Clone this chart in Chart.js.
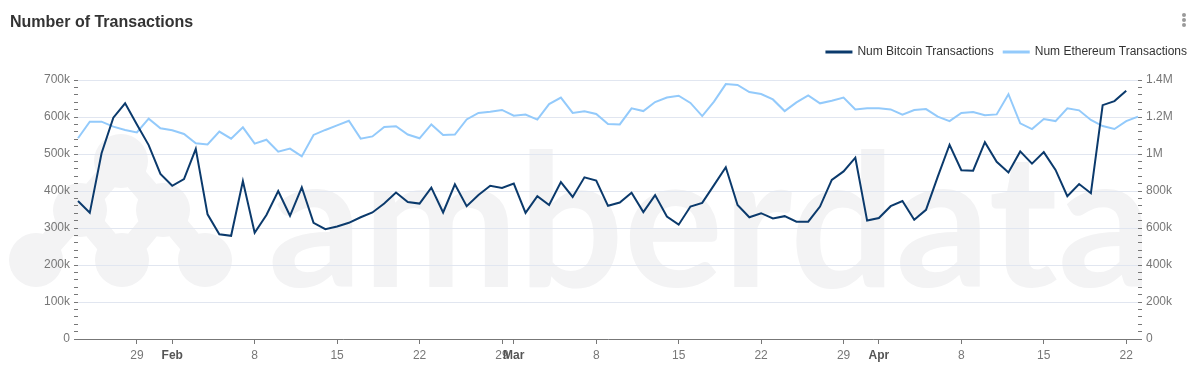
<!DOCTYPE html>
<html>
<head>
<meta charset="utf-8">
<script src="https://cdn.jsdelivr.net/npm/chart.js@4"></script>
<style>
    body { margin: 0; background: #fff; font-family: 'Liberation Sans', Arial, sans-serif; }
    #wrap { position: relative; width: 1189px; height: 377px; }
    #title { position: absolute; left: 10px; top: 13px; font-size: 16px; line-height: 18px; font-weight: bold; color: #333; z-index: 2; }
    .dot { position: absolute; left: 1182px; width: 4px; height: 4px; border-radius: 50%; background: #9a9a9a; z-index: 2; }
    canvas { position: absolute; left: 0; top: 0; }
</style>
</head>
<body>
<div id="wrap">
    <div id="title">Number of Transactions</div>
    <div class="dot" style="top:13px"></div>
    <div class="dot" style="top:18px"></div>
    <div class="dot" style="top:23px"></div>
    <canvas id="myChart" width="1189" height="377"></canvas>
</div>
<script>
// Дни: с 24 января 2024 по 23 апреля 2024
const startDate = '2024-01-24';
const dayCount = 91;

// Количество транзакций Bitcoin (тыс.)
const btcTx = [
    373, 341, 502, 598, 637, 580, 524, 446, 414, 432,
    514, 337, 283, 279, 427, 287, 335, 400, 333, 410,
    314, 297, 304, 314, 329, 342, 366, 396, 370, 366,
    409, 342, 418, 359, 389, 414, 408, 420, 341, 386,
    362, 424, 384, 437, 428, 360, 369, 395, 343, 389,
    331, 309, 358, 368, 416, 464, 362, 329, 340, 326,
    332, 317, 317, 358, 430, 453, 490, 320, 327, 359,
    373, 322, 349, 439, 525, 456, 455, 532, 479, 450,
    507, 474, 505, 457, 386, 419, 394, 632, 643, 671,
    null
];

// Количество транзакций Ethereum (тыс.)
const ethTx = [
    1085, 1175, 1175, 1148, 1130, 1117, 1191, 1139, 1128, 1108,
    1058, 1052, 1121, 1083, 1144, 1056, 1077, 1013, 1029, 987,
    1103, 1130, 1155, 1180, 1083, 1095, 1146, 1150, 1105, 1085,
    1160, 1103, 1105, 1187, 1222, 1229, 1238, 1207, 1213, 1186,
    1270, 1305, 1222, 1231, 1216, 1162, 1160, 1247, 1232, 1281,
    1305, 1315, 1276, 1205, 1283, 1378, 1373, 1335, 1324, 1295,
    1232, 1279, 1317, 1274, 1288, 1305, 1241, 1247, 1247, 1241,
    1213, 1238, 1243, 1202, 1178, 1222, 1227, 1209, 1214, 1323,
    1166, 1135, 1189, 1178, 1247, 1236, 1184, 1151, 1135, 1178,
    1202
];

// Подписи оси X
const tickDates = ['2024-01-29', '2024-02-01', '2024-02-08', '2024-02-15', '2024-02-22', '2024-02-29',
    '2024-03-01', '2024-03-08', '2024-03-15', '2024-03-22', '2024-03-29',
    '2024-04-01', '2024-04-08', '2024-04-15', '2024-04-22'];
const tickText = ['29', 'Feb', '8', '15', '22', '29', 'Mar', '8', '15', '22', '29', 'Apr', '8', '15', '22'];
const monthTicks = ['Feb', 'Mar', 'Apr'];

// Категории (даты)
let labels = [];
let d = new Date(startDate + 'T00:00:00Z');
for (let i = 0; i < dayCount; i++) {
    labels.push(d.toISOString().slice(0, 10));
    d.setUTCDate(d.getUTCDate() + 1);
}
const tickIndex = tickDates.map(t => labels.indexOf(t));

Chart.defaults.font.family = "'Liberation Sans', Arial, sans-serif";
Chart.defaults.font.size = 12;

// Водяной знак на фоне
const watermark = {
    id: 'watermark',
    beforeDraw(chart) {
        const c = chart.ctx;
        c.save();
        c.fillStyle = '#f3f3f4';
        c.strokeStyle = '#f3f3f4';
        const blobs = [[121, 161], [80, 210], [163, 210], [36, 260], [122, 260], [205, 260]];
        c.lineWidth = 24;
        c.lineCap = 'round';
        const links = [[0, 1], [0, 2], [1, 3], [1, 4], [2, 4], [2, 5]];
        links.forEach(([a, b]) => {
            c.beginPath();
            c.moveTo(blobs[a][0], blobs[a][1]);
            c.lineTo(blobs[b][0], blobs[b][1]);
            c.stroke();
        });
        blobs.forEach(([x, y]) => {
            c.beginPath();
            c.arc(x, y, 27, 0, Math.PI * 2);
            c.fill();
        });
        c.font = "bold 186px Lato, 'Open Sans', sans-serif";
        c.textBaseline = 'alphabetic';
        c.fillText('amberdata', 268, 287);
        c.restore();
    }
};

// Отступ под легендой
const legendGap = {
    id: 'legendGap',
    beforeInit(chart) {
        const fit = chart.legend.fit;
        chart.legend.fit = function () {
            fit.bind(chart.legend)();
            this.height = 44;
        };
    }
};

const ctx = document.getElementById('myChart').getContext('2d');

window.myChart = new Chart(ctx, {
    type: 'line',
    data: {
        labels: labels,
        datasets: [{
            label: 'Num Bitcoin Transactions',
            data: btcTx,
            borderColor: '#0b3a6c',
            backgroundColor: '#0b3a6c',
            borderWidth: 2,
            pointRadius: 0,
            tension: 0,
            yAxisID: 'y'
        }, {
            label: 'Num Ethereum Transactions',
            data: ethTx,
            borderColor: '#93cafb',
            backgroundColor: '#93cafb',
            borderWidth: 2,
            pointRadius: 0,
            tension: 0,
            yAxisID: 'y1'
        }]
    },
    options: {
        responsive: false,
        animation: false,
        devicePixelRatio: 1,
        layout: { padding: { top: 36, right: -8, left: 0, bottom: 0 } },
        plugins: {
            legend: {
                position: 'top',
                align: 'end',
                labels: {
                    boxWidth: 25,
                    boxHeight: 1,
                    color: '#333',
                    padding: 10,
                    font: { size: 12 }
                }
            },
            tooltip: { enabled: false }
        },
        scales: {
            x: {
                offset: false,
                afterFit(scale) { scale.height = 38; },
                afterBuildTicks(scale) {
                    scale.ticks = scale.ticks.filter(t => tickIndex.includes(t.value));
                },
                grid: { display: true, drawOnChartArea: false, drawTicks: true, tickLength: 5, tickColor: '#777' },
                border: { display: true, color: '#777', width: 1 },
                ticks: {
                    autoSkip: false,
                    maxRotation: 0,
                    padding: 4,
                    callback: v => tickText[tickIndex.indexOf(v)],
                    color: c => monthTicks.includes(tickText[tickIndex.indexOf(c.tick.value)]) ? '#555' : '#777',
                    font: c => ({ size: 12, weight: monthTicks.includes(tickText[tickIndex.indexOf(c.tick.value)]) ? 'bold' : 'normal' })
                }
            },
            y: {
                position: 'left',
                min: 0,
                max: 700,
                afterFit(scale) { scale.width = 78; },
                border: { display: false },
                grid: {
                    color: c => c.tick.value % 100 === 0 ? '#e1e6f0' : 'rgba(0,0,0,0)',
                    tickColor: '#777',
                    tickLength: 4
                },
                ticks: {
                    stepSize: 20,
                    autoSkip: false,
                    padding: 4,
                    color: '#777',
                    callback: v => v % 100 === 0 ? (v === 0 ? '0' : v + 'k') : ''
                }
            },
            y1: {
                position: 'right',
                min: 0,
                max: 1400,
                afterFit(scale) { scale.width = 59; },
                border: { display: false },
                grid: {
                    drawOnChartArea: false,
                    tickColor: '#777',
                    tickLength: 4
                },
                ticks: {
                    stepSize: 40,
                    autoSkip: false,
                    padding: 4,
                    color: '#777',
                    callback: v => v % 200 === 0 ? (v === 0 ? '0' : (v >= 1000 ? v / 1000 + 'M' : v + 'k')) : ''
                }
            }
        }
    },
    plugins: [watermark, legendGap]
});
</script>
</body>
</html>
